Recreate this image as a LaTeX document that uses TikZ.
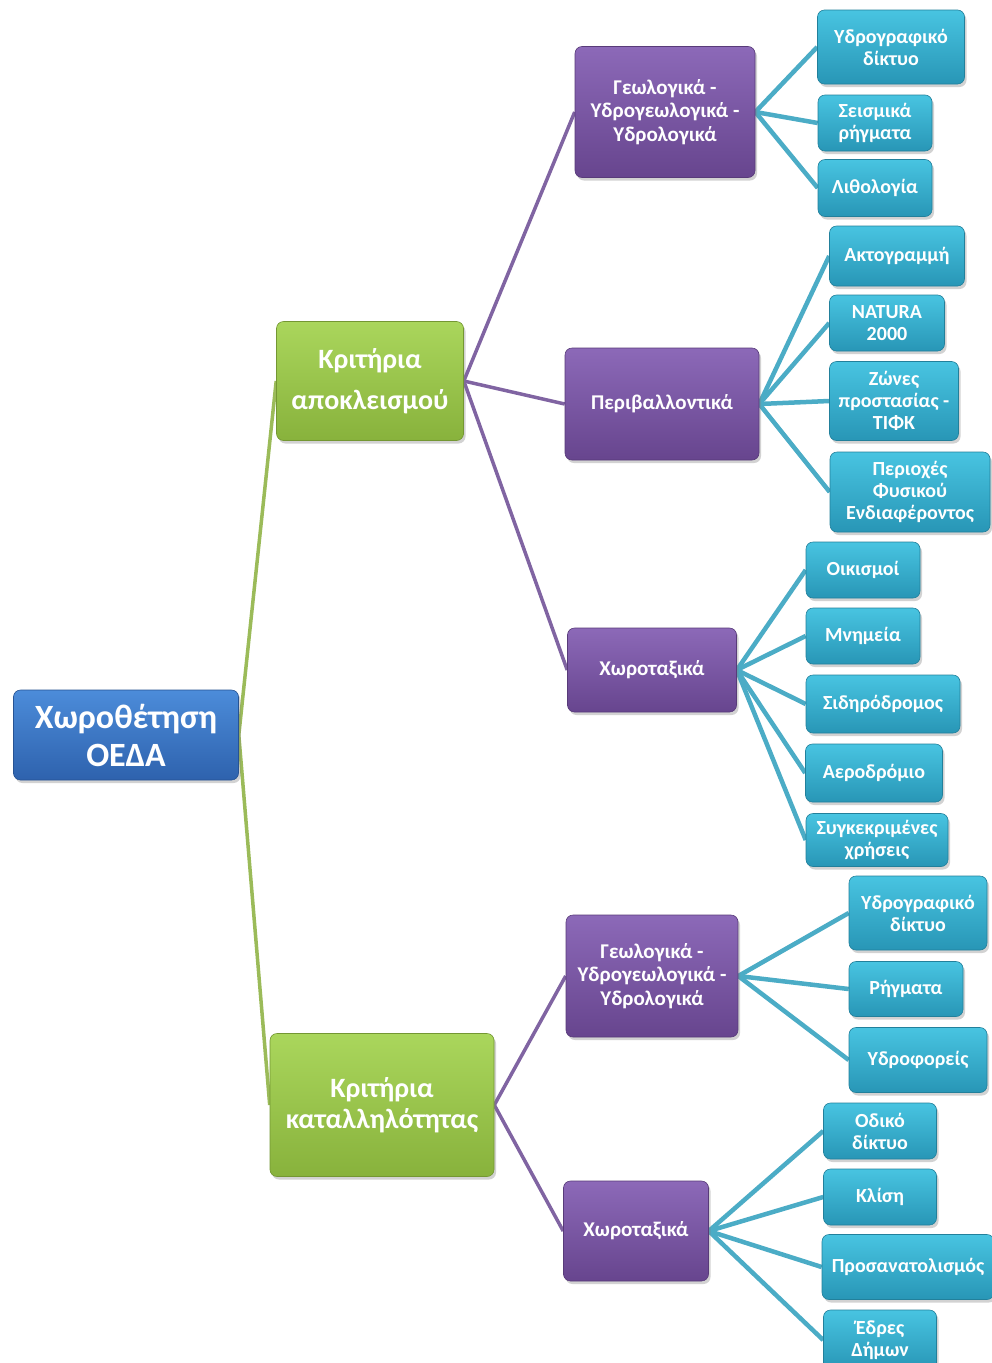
\documentclass[tikz,border=0pt]{standalone}
\usepackage{fontspec}
\setmainfont{Carlito}
\usetikzlibrary{shadows,backgrounds}

\definecolor{rootTop}{HTML}{4C8CDA}
\definecolor{rootBot}{HTML}{2E62AD}
\definecolor{critTop}{HTML}{AAD65C}
\definecolor{critBot}{HTML}{88B23C}
\definecolor{groupTop}{HTML}{8C69B8}
\definecolor{groupBot}{HTML}{67458E}
\definecolor{leafTop}{HTML}{48C4E1}
\definecolor{leafBot}{HTML}{2896B6}
\definecolor{greenLine}{HTML}{9BBB59}
\definecolor{purpleLine}{HTML}{8064A2}
\definecolor{aquaLine}{HTML}{4BACC6}

\tikzset{
  box/.style={rounded corners=7pt, align=center, text=white, inner sep=2pt,
    line width=0.6pt,
    drop shadow={shadow xshift=2pt, shadow yshift=-3pt, opacity=0.35}},
  rootbox/.style={box, top color=rootTop, bottom color=rootBot, draw=rootBot!85!black,
    font=\fontsize{34}{38}\selectfont\bfseries},
  critbox/.style={box, top color=critTop, bottom color=critBot, draw=critBot!85!black,
    font=\fontsize{28}{31}\selectfont\bfseries},
  groupbox/.style={box, top color=groupTop, bottom color=groupBot, draw=groupBot!85!black,
    font=\fontsize{21}{23.5}\selectfont\bfseries},
  leafbox/.style={box, top color=leafTop, bottom color=leafBot, draw=leafBot!85!black,
    font=\fontsize{20}{22}\selectfont\bfseries},
  greenlink/.style={line width=3.5pt, color=greenLine},
  purplelink/.style={line width=3.5pt, color=purpleLine},
  aqualink/.style={line width=4.5pt, color=aquaLine}
}

\begin{document}
\begin{tikzpicture}[x=1pt, y=-1pt]
		%%%%% START %%%%%
		\useasboundingbox (0, 0) rectangle (992, 1363);
		
		\node[rootbox, minimum width=225pt, minimum height=90pt] (root) at (126, 735) {Χωροθέτηση\\ΟΕΔΑ};
		
		\node[critbox, minimum width=187pt, minimum height=119pt] (krit1) at (370, 381) {Κριτήρια\\[10pt]αποκλεισμού};
		\node[critbox, minimum width=224pt, minimum height=143pt] (krit2) at (382, 1105) {Κριτήρια\\καταλληλότητας};
		
		\node[groupbox, minimum width=180pt, minimum height=131pt] (geo1) at (665, 112) {Γεωλογικά -\\Υδρογεωλογικά -\\Υδρολογικά};
		\node[groupbox, minimum width=194pt, minimum height=112pt] (env) at (662, 404) {Περιβαλλοντικά};
		\node[groupbox, minimum width=169pt, minimum height=84pt] (spat1) at (652, 670) {Χωροταξικά};
		\node[groupbox, minimum width=172pt, minimum height=122pt] (geo2) at (652, 976) {Γεωλογικά -\\Υδρογεωλογικά -\\Υδρολογικά};
		\node[groupbox, minimum width=145pt, minimum height=100pt] (spat2) at (636, 1231) {Χωροταξικά};
		
		\node[leafbox, minimum width=147pt, minimum height=74pt] (hydro1) at (891, 47) {Υδρογραφικό\\δίκτυο};
		\node[leafbox, minimum width=114pt, minimum height=56pt] (seism) at (875, 123) {Σεισμικά\\ρήγματα};
		\node[leafbox, minimum width=114pt, minimum height=57pt] (litho) at (875, 188) {Λιθολογία};
		
		\node[leafbox, minimum width=135pt, minimum height=60pt] (coast) at (897, 256) {Ακτογραμμή};
		\node[leafbox, minimum width=115pt, minimum height=56pt] (natura) at (887, 323) {NATURA\\2000};
		\node[leafbox, minimum width=129pt, minimum height=79pt] (zones) at (894, 401) {Ζώνες\\προστασίας -\\ΤΙΦΚ};
		\node[leafbox, minimum width=160pt, minimum height=80pt] (nature) at (910, 492) {Περιοχές\\Φυσικού\\Ενδιαφέροντος};
		
		\node[leafbox, minimum width=114pt, minimum height=56pt] (settle) at (863, 570) {Οικισμοί};
		\node[leafbox, minimum width=114pt, minimum height=56pt] (monum) at (863, 636) {Μνημεία};
		\node[leafbox, minimum width=154pt, minimum height=58pt] (rail) at (883, 704) {Σιδηρόδρομος};
		\node[leafbox, minimum width=137pt, minimum height=58pt] (airport) at (874, 773) {Αεροδρόμιο};
		\node[leafbox, minimum width=142pt, minimum height=53pt] (uses) at (877, 840) {Συγκεκριμένες\\χρήσεις};
		
		\node[leafbox, minimum width=138pt, minimum height=74pt] (hydro2) at (918, 913) {Υδρογραφικό\\δίκτυο};
		\node[leafbox, minimum width=114pt, minimum height=55pt] (faults) at (906, 989) {Ρήγματα};
		\node[leafbox, minimum width=138pt, minimum height=65pt] (aquif) at (918, 1060) {Υδροφορείς};
		
		\node[leafbox, minimum width=113pt, minimum height=56pt] (road) at (880, 1131) {Οδικό\\δίκτυο};
		\node[leafbox, minimum width=113pt, minimum height=56pt] (slope) at (880, 1197) {Κλίση};
		\node[leafbox, minimum width=172pt, minimum height=65pt] (aspect) at (908, 1267) {Προσανατολισμός};
		\node[leafbox, minimum width=113pt, minimum height=60pt] (seats) at (880, 1340) {Έδρες\\Δήμων};
		
		\begin{scope}[on background layer]
		\fill[white] (0, 0) rectangle (992, 1363);
		
		\draw[greenlink] (root.east) -- (krit1.west);
		\draw[greenlink] (root.east) -- (krit2.west);
		
		\draw[purplelink] (krit1.east) -- (geo1.west);
		\draw[purplelink] (krit1.east) -- (env.west);
		\draw[purplelink] (krit1.east) -- (spat1.west);
		\draw[purplelink] (krit2.east) -- (geo2.west);
		\draw[purplelink] (krit2.east) -- (spat2.west);
		
		\draw[aqualink] (geo1.east) -- (hydro1.west);
		\draw[aqualink] (geo1.east) -- (seism.west);
		\draw[aqualink] (geo1.east) -- (litho.west);
		
		\draw[aqualink] (env.east) -- (coast.west);
		\draw[aqualink] (env.east) -- (natura.west);
		\draw[aqualink] (env.east) -- (zones.west);
		\draw[aqualink] (env.east) -- (nature.west);
		
		\draw[aqualink] (spat1.east) -- (settle.west);
		\draw[aqualink] (spat1.east) -- (monum.west);
		\draw[aqualink] (spat1.east) -- (rail.west);
		\draw[aqualink] (spat1.east) -- (airport.west);
		\draw[aqualink] (spat1.east) -- (uses.west);
		
		\draw[aqualink] (geo2.east) -- (hydro2.west);
		\draw[aqualink] (geo2.east) -- (faults.west);
		\draw[aqualink] (geo2.east) -- (aquif.west);
		
		\draw[aqualink] (spat2.east) -- (road.west);
		\draw[aqualink] (spat2.east) -- (slope.west);
		\draw[aqualink] (spat2.east) -- (aspect.west);
		\draw[aqualink] (spat2.east) -- (seats.west);
		\end{scope}
		%%%%% END %%%%%
\end{tikzpicture}
\end{document}
